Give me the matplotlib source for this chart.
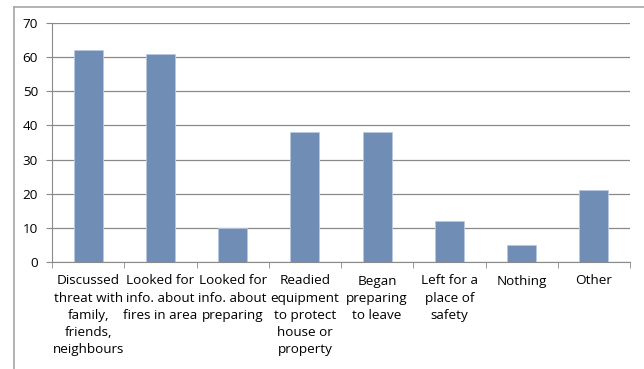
import matplotlib
matplotlib.use("Agg")
import matplotlib.pyplot as plt
from matplotlib.lines import Line2D
import numpy as np

labels = ["Discussed\nthreat with\nfamily,\nfriends,\nneighbours",
          "Looked for\ninfo. about\nfires in area",
          "Looked for\ninfo. about\npreparing",
          "Readied\nequipment\nto protect\nhouse or\nproperty",
          "Began\npreparing\nto leave",
          "Left for a\nplace of\nsafety",
          "Nothing",
          "Other"]
values = [62, 61, 10, 38, 38, 12, 5, 21]

plt.rcParams["font.family"] = ["Open Sans", "DejaVu Sans"]

fig = plt.figure(figsize=(6.44, 3.69), dpi=100)
ax = fig.add_axes([52/644, 1-262/369, (630-52)/644, (262-23)/369])

x = np.arange(len(values))
ax.bar(x, values, width=0.4, color="#6F8DB5", edgecolor="#B8C9DF", linewidth=0.6, zorder=3)

ax.set_xlim(-0.5, len(values)-0.5)
ax.set_ylim(0, 70)
ax.set_yticks(np.arange(0, 71, 10))
ax.yaxis.grid(True, color="#8A8A8A", linewidth=0.9, zorder=0)
ax.set_xticks(x)
ax.set_xticklabels(labels, fontsize=9.7, linespacing=1.42)
ax.set_xticks(np.arange(-0.5, len(values)), minor=True)
ax.tick_params(axis="x", which="major", length=0, pad=9)
ax.tick_params(axis="x", which="minor", length=4, color="#8A8A8A")
ax.tick_params(axis="y", labelsize=9.7, length=4, color="#8A8A8A", pad=6)

for s in ["top", "right"]:
    ax.spines[s].set_visible(False)
ax.spines["left"].set_color("#8A8A8A")
ax.spines["bottom"].set_color("#8A8A8A")

# chart frame (cropped)
fig.add_artist(Line2D([14/644, 14/644], [0, 1-7/369], color="#A6A6A6", linewidth=1.2))
fig.add_artist(Line2D([14/644, 1], [1-7/369, 1-7/369], color="#A6A6A6", linewidth=1.2))

fig.savefig("out.png", dpi=100)
